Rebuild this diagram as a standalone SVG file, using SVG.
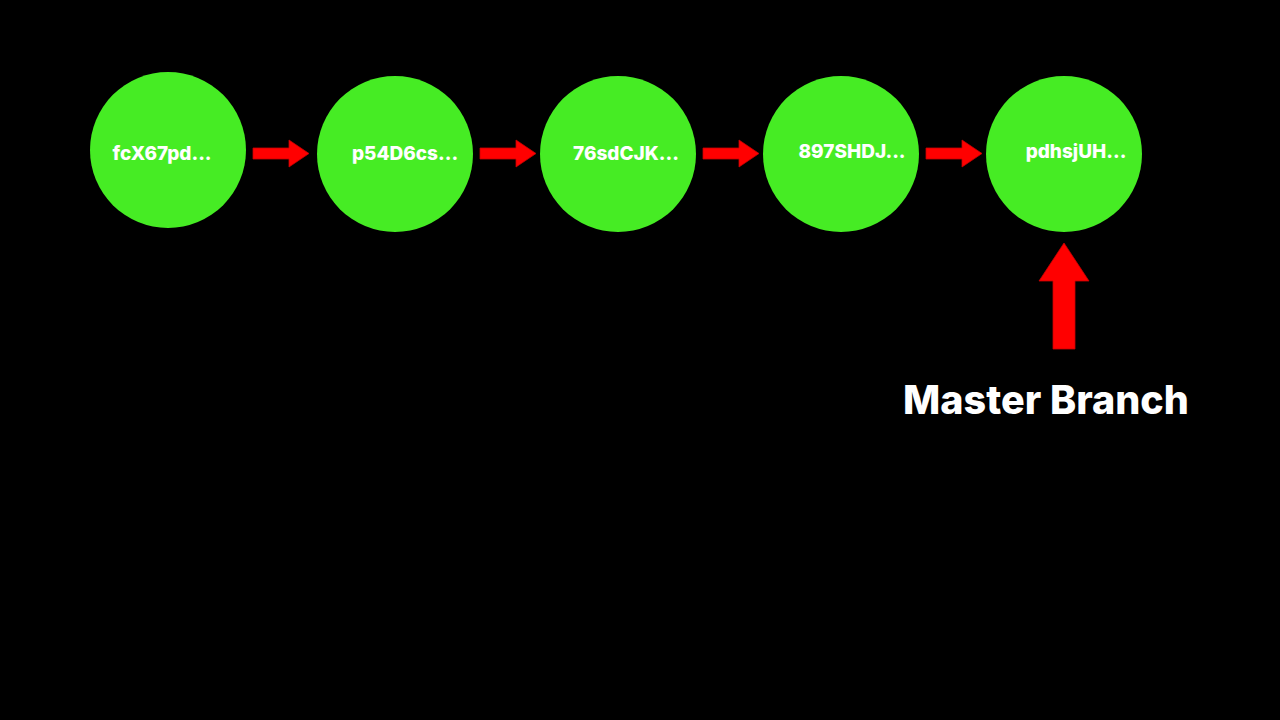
<svg xmlns="http://www.w3.org/2000/svg" width="1280" height="720" viewBox="0 0 1280 720">
<defs>
<style>
.node{fill:#46ec24;}
.lbl{fill:#ffffff;font-family:"Inter","Open Sans","Liberation Sans",sans-serif;font-weight:800;font-size:19px;text-anchor:middle;}
.arr{fill:#ff0000;stroke:#c80000;stroke-width:0.8;}
.title{fill:#ffffff;font-family:"Inter","Open Sans","Liberation Sans",sans-serif;font-weight:800;font-size:39.5px;text-anchor:middle;}
</style>
<path id="harrow" d="M0,-5.5 L36,-5.5 L36,-13.5 L56,0 L36,13.5 L36,5.5 L0,5.5 Z"/>
</defs>
<rect width="1280" height="720" fill="#000000"/>
<g id="connectors">
<use href="#harrow" class="arr" x="253" y="153.5"/>
<use href="#harrow" class="arr" x="480" y="153.5"/>
<use href="#harrow" class="arr" x="703" y="153.5"/>
<use href="#harrow" class="arr" x="926" y="153.5"/>
<path class="arr" d="M1053,349 L1053,281 L1039,281 L1064,243 L1089,281 L1075,281 L1075,349 Z"/>
</g>
<g id="n1"><circle class="node" cx="168" cy="150" r="78"/><text class="lbl" x="162" y="160">fcX67pd...</text></g>
<g id="n2"><circle class="node" cx="395" cy="154" r="78"/><text class="lbl" x="405" y="160">p54D6cs...</text></g>
<g id="n3"><circle class="node" cx="618" cy="154" r="78"/><text class="lbl" x="626" y="160">76sdCJK...</text></g>
<g id="n4"><circle class="node" cx="841" cy="154" r="78"/><text class="lbl" x="852" y="158">897SHDJ...</text></g>
<g id="n5"><circle class="node" cx="1064" cy="154" r="78"/><text class="lbl" x="1076" y="158">pdhsjUH...</text></g>
<g id="master"><text class="title" x="1046" y="414">Master Branch</text></g>
</svg>
